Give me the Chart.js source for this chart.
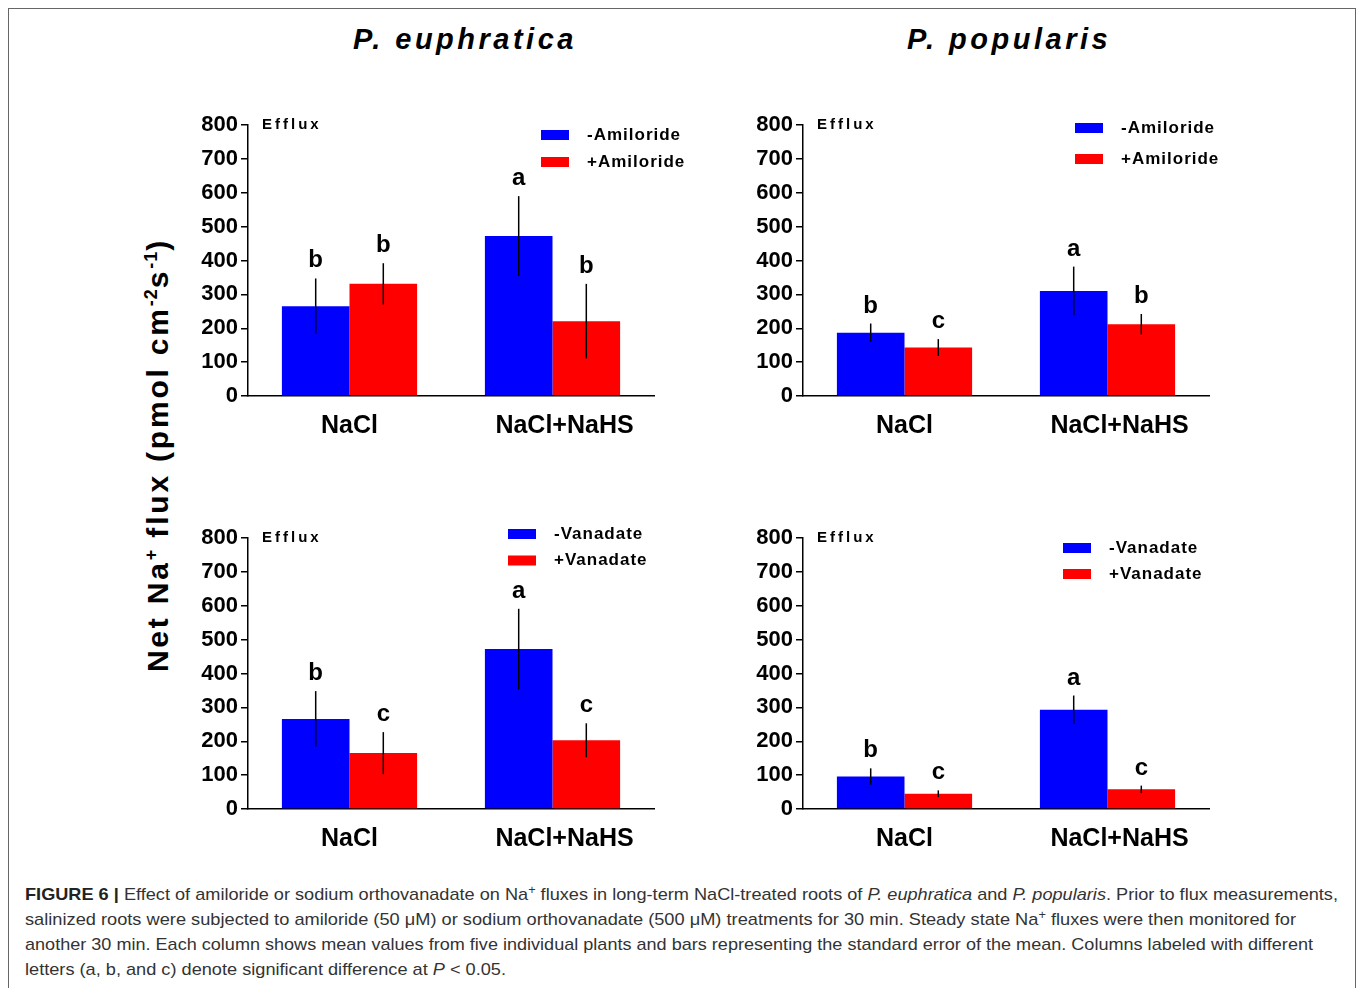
<!DOCTYPE html>
<html>
<head>
<meta charset="utf-8">
<script src="https://cdn.jsdelivr.net/npm/chart.js@4.4.0/dist/chart.umd.min.js"></script>
<style>
  body { margin: 0; background: #fff; width: 1357px; height: 988px; overflow: hidden; position: relative;
         font-family: "Liberation Sans", Arial, sans-serif; }
  .frame { position: absolute; left: 8px; top: 8px; width: 1346px; height: 1000px; border: 1.5px solid #666; }
  .panel { position: absolute; }
  .title { position: absolute; top: 22px; font: italic bold 29px "Liberation Sans", Arial, sans-serif;
           letter-spacing: 3.5px; line-height: 34px; white-space: nowrap; transform: translateX(-50%); }
  .ylab { position: absolute; left: 158px; top: 455px; transform: translate(-50%, -50%) rotate(-90deg);
          font: bold 30px "Liberation Sans", Arial, sans-serif; letter-spacing: 2.8px; white-space: nowrap; line-height: 34px; }
  .ylab sup { font-size: 0.6em; vertical-align: 0.6em; line-height: 0; letter-spacing: 1px; }
  .caption { position: absolute; left: 25px; top: 882px; color: #333; font-size: 17px; line-height: 25px; }
  .caption div { white-space: nowrap; transform-origin: left center; width: max-content; }
  .caption b { color: #222; }
  .caption sup { font-size: 0.7em; vertical-align: 0.5em; line-height: 0; }
</style>
</head>
<body>
<div class="frame"></div>
<div class="title" style="left:465px">P. euphratica</div>
<div class="title" style="left:1009px">P. popularis</div>
<div class="ylab">Net Na<sup>+</sup> flux (pmol cm<sup>-2</sup>s<sup>-1</sup>)</div>

<canvas class="panel" id="panelTL" width="546" height="340" style="left:168px; top:101px"></canvas>
<canvas class="panel" id="panelTR" width="546" height="340" style="left:723px; top:101px"></canvas>
<canvas class="panel" id="panelBL" width="546" height="340" style="left:168px; top:514px"></canvas>
<canvas class="panel" id="panelBR" width="546" height="340" style="left:723px; top:514px"></canvas>

<div class="caption" id="caption">
  <div data-w="1313"><b>FIGURE 6 |</b> Effect of amiloride or sodium orthovanadate on Na<sup>+</sup> fluxes in long-term NaCl-treated roots of <i>P. euphratica</i> and <i>P. popularis</i>. Prior to flux measurements,</div>
  <div data-w="1271">salinized roots were subjected to amiloride (50 μM) or sodium orthovanadate (500 μM) treatments for 30 min. Steady state Na<sup>+</sup> fluxes were then monitored for</div>
  <div data-w="1288">another 30 min. Each column shows mean values from five individual plants and bars representing the standard error of the mean. Columns labeled with different</div>
  <div data-w="481">letters (a, b, and c) denote significant difference at <i>P</i> &lt; 0.05.</div>
</div>

<script>
// data
const categories = ['NaCl', 'NaCl+NaHS'];
const yTicks = [0, 100, 200, 300, 400, 500, 600, 700, 800];

// P. euphratica, amiloride
const euAmiMinus = [265, 472];
const euAmiMinusErr = [82, 118];
const euAmiMinusLetters = ['b', 'a'];
const euAmiPlus = [331, 221];
const euAmiPlusErr = [61, 110];
const euAmiPlusLetters = ['b', 'b'];

// P. popularis, amiloride
const poAmiMinus = [187, 310];
const poAmiMinusErr = [27, 72];
const poAmiMinusLetters = ['b', 'a'];
const poAmiPlus = [143, 212];
const poAmiPlusErr = [25, 30];
const poAmiPlusLetters = ['c', 'b'];

// P. euphratica, vanadate
const euVanMinus = [266, 472];
const euVanMinusErr = [82, 119];
const euVanMinusLetters = ['b', 'a'];
const euVanPlus = [165, 203];
const euVanPlusErr = [62, 50];
const euVanPlusLetters = ['c', 'c'];

// P. popularis, vanadate
const poVanMinus = [96, 293];
const poVanMinusErr = [24, 42];
const poVanMinusLetters = ['b', 'a'];
const poVanPlus = [45, 58];
const poVanPlusErr = [10, 11];
const poVanPlusLetters = ['c', 'c'];

const FONT = '"Liberation Sans", Arial, sans-serif';
const BLUE = '#0000ff';
const RED = '#ff0000';
const catLabelShift = [0, 12];

Chart.defaults.font.family = FONT;
Chart.defaults.color = '#000';

const errorBars = {
    id: 'errorBars',
    afterDatasetsDraw(chart) {
        const ctx = chart.ctx;
        const y = chart.scales.y;
        chart.data.datasets.forEach((ds, di) => {
            chart.getDatasetMeta(di).data.forEach((bar, i) => {
                const top = y.getPixelForValue(ds.data[i] + ds.errors[i]);
                const bottom = y.getPixelForValue(ds.data[i] - ds.errors[i]);
                ctx.save();
                ctx.strokeStyle = '#000';
                ctx.lineWidth = 1.5;
                ctx.beginPath();
                ctx.moveTo(bar.x, top);
                ctx.lineTo(bar.x, bottom);
                ctx.stroke();
                ctx.fillStyle = '#000';
                ctx.font = 'bold 24px ' + FONT;
                ctx.textAlign = 'center';
                ctx.textBaseline = 'alphabetic';
                ctx.fillText(ds.letters[i], bar.x, top - 11);
                ctx.restore();
            });
        });
    }
};

const panelDecor = {
    id: 'panelDecor',
    afterDraw(chart, args, opts) {
        const ctx = chart.ctx;
        const area = chart.chartArea;
        const x = chart.scales.x;
        ctx.save();
        ctx.fillStyle = '#000';

        // "Efflux" note at the top of the y axis
        ctx.font = 'bold 15px ' + FONT;
        ctx.letterSpacing = '3px';
        ctx.textAlign = 'left';
        ctx.textBaseline = 'alphabetic';
        ctx.fillText('Efflux', area.left + 14, area.top + 4);

        // category labels
        ctx.letterSpacing = '0px';
        ctx.font = 'bold 25px ' + FONT;
        ctx.textAlign = 'center';
        ctx.textBaseline = 'middle';
        chart.data.labels.forEach((lab, i) => {
            ctx.fillText(lab, x.getPixelForTick(i) + catLabelShift[i], area.bottom + 30);
        });

        // legend
        const lg = opts.legend;
        ctx.font = 'bold 17px ' + FONT;
        ctx.letterSpacing = '1px';
        ctx.textAlign = 'left';
        chart.data.datasets.forEach((ds, i) => {
            const rx = area.left + lg.x;
            const ry = area.top + lg.y + i * lg.gap;
            ctx.fillStyle = ds.backgroundColor;
            ctx.fillRect(rx, ry, 28, 10);
            ctx.fillStyle = '#000';
            ctx.fillText(ds.label, rx + 46, ry + 5);
        });
        ctx.restore();
    }
};

function makePanel(id, labels, minus, minusErr, minusLetters, plus, plusErr, plusLetters, legend) {
    return new Chart(document.getElementById(id), {
        type: 'bar',
        data: {
            labels: categories,
            datasets: [
                { label: labels[0], data: minus, errors: minusErr, letters: minusLetters,
                  backgroundColor: BLUE, borderWidth: 0 },
                { label: labels[1], data: plus, errors: plusErr, letters: plusLetters,
                  backgroundColor: RED, borderWidth: 0 }
            ]
        },
        options: {
            responsive: false,
            animation: false,
            events: [],
            categoryPercentage: 0.666,
            barPercentage: 1,
            layout: { padding: { top: 24, right: 60, left: 0, bottom: 0 } },
            plugins: {
                legend: { display: false },
                tooltip: { enabled: false },
                panelDecor: { legend: legend }
            },
            scales: {
                x: {
                    grid: { display: false },
                    border: { display: true, color: '#000', width: 1.5 },
                    ticks: { display: false },
                    afterFit: (s) => { s.height = 45; }
                },
                y: {
                    min: 0,
                    max: 800,
                    afterBuildTicks: (s) => { s.ticks = yTicks.map(v => ({ value: v })); },
                    grid: { drawOnChartArea: false, drawTicks: true, tickLength: 7, color: '#000', lineWidth: 1.5 },
                    border: { display: true, color: '#000', width: 1.5 },
                    ticks: { padding: 3, color: '#000', font: { size: 22, weight: 'bold' } },
                    afterFit: (s) => { s.width = 80; }
                }
            }
        },
        plugins: [errorBars, panelDecor]
    });
}

makePanel('panelTL', ['-Amiloride', '+Amiloride'],
    euAmiMinus, euAmiMinusErr, euAmiMinusLetters, euAmiPlus, euAmiPlusErr, euAmiPlusLetters,
    { x: 293, y: 5, gap: 27 });
makePanel('panelTR', ['-Amiloride', '+Amiloride'],
    poAmiMinus, poAmiMinusErr, poAmiMinusLetters, poAmiPlus, poAmiPlusErr, poAmiPlusLetters,
    { x: 272, y: -2, gap: 31 });
makePanel('panelBL', ['-Vanadate', '+Vanadate'],
    euVanMinus, euVanMinusErr, euVanMinusLetters, euVanPlus, euVanPlusErr, euVanPlusLetters,
    { x: 260, y: -9, gap: 26.5 });
makePanel('panelBR', ['-Vanadate', '+Vanadate'],
    poVanMinus, poVanMinusErr, poVanMinusLetters, poVanPlus, poVanPlusErr, poVanPlusLetters,
    { x: 260, y: 5, gap: 26 });

// squeeze each caption line to the width it has in the figure
document.querySelectorAll('#caption div').forEach(line => {
    const w = line.getBoundingClientRect().width;
    line.style.transform = 'scaleX(' + (parseFloat(line.dataset.w) / w) + ')';
});
</script>
</body>
</html>
